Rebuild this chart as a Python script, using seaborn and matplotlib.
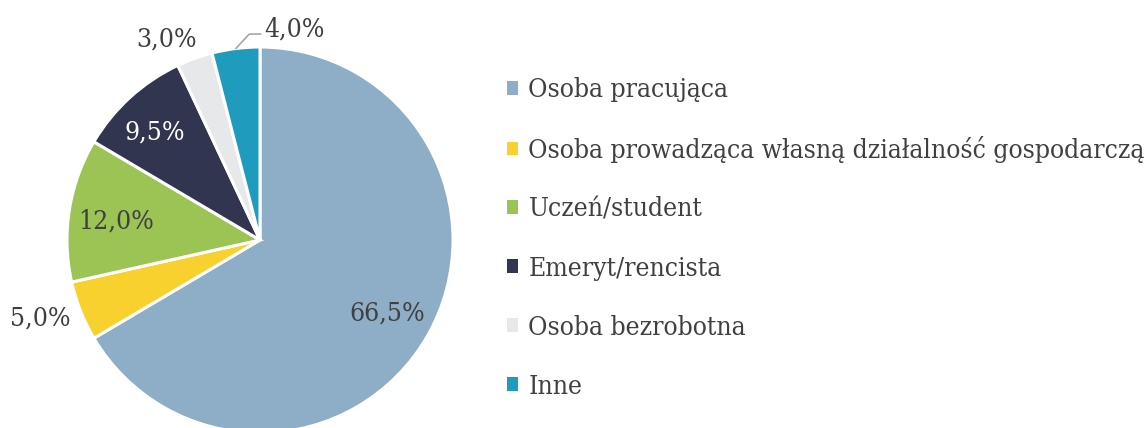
import matplotlib
matplotlib.use("Agg")
import matplotlib.pyplot as plt
import seaborn as sns
import numpy as np
from matplotlib.patches import Patch

sns.set_theme(style="white")
plt.rcParams['font.family'] = ['DejaVu Serif', 'DejaVu Sans']
plt.rcParams['font.stretch'] = 'condensed'

categories = ["Osoba pracująca", "Osoba prowadząca własną działalność gospodarczą",
              "Uczeń/student", "Emeryt/rencista", "Osoba bezrobotna", "Inne"]
values = [66.5, 5.0, 12.0, 9.5, 3.0, 4.0]
colors = ["#8EADC6", "#F9D12F", "#9CC455", "#323550", "#E7E8EA", "#1F9BBE"]
label_colors = ["#404040", "#404040", "#404040", "#FFFFFF", "#404040", "#404040"]
label_radius = [0.76, 1.21, 0.75, 0.78, 1.15, 1.11]
label_shift = [0, -2, 1.5, 2, 5, -16.5]  # degrees

W, H = 1145, 428
fig = plt.figure(figsize=(W / 100, H / 100), dpi=100)
cx, cy, r = 260, 240, 193
ax = fig.add_axes([(cx - r) / W, (H - cy - r) / H, 2 * r / W, 2 * r / H])
wedges, _ = ax.pie(values, colors=colors, startangle=90, counterclock=False,
                   wedgeprops=dict(edgecolor="white", linewidth=2.2))
ax.set_xlim(-1, 1)
ax.set_ylim(-1, 1)
ax.set_aspect("equal")
ax.axis("off")

fs = 19
for w, v, lr, sh, lc in zip(wedges, values, label_radius, label_shift, label_colors):
    ang = np.deg2rad((w.theta1 + w.theta2) / 2 + sh)
    x, y = lr * np.cos(ang), lr * np.sin(ang)
    ax.text(x, y, f"{v:.1f}%".replace(".", ","), ha="center", va="center",
            fontsize=fs, color=lc, clip_on=False)

# leader line for the small last slice
w = wedges[-1]
a = np.deg2rad((w.theta1 + w.theta2) / 2)
p0 = (1.0 * np.cos(a), 1.0 * np.sin(a))
ax.plot([p0[0], p0[0] + 0.07, p0[0] + 0.13], [p0[1], p0[1] + 0.075, p0[1] + 0.075],
        color="#A6A6A6", lw=1.2, clip_on=False)

handles = [Patch(facecolor=c, edgecolor="none") for c in colors]
fig.legend(handles, categories, loc="upper left", bbox_to_anchor=(507 / W, 1 - 77 / H),
           frameon=False, fontsize=fs, labelcolor="#404040", handlelength=0.43,
           handleheight=0.43, handletextpad=0.38, labelspacing=1.285, borderaxespad=0,
           borderpad=0)

fig.savefig("out.png", dpi=100, facecolor="white")
